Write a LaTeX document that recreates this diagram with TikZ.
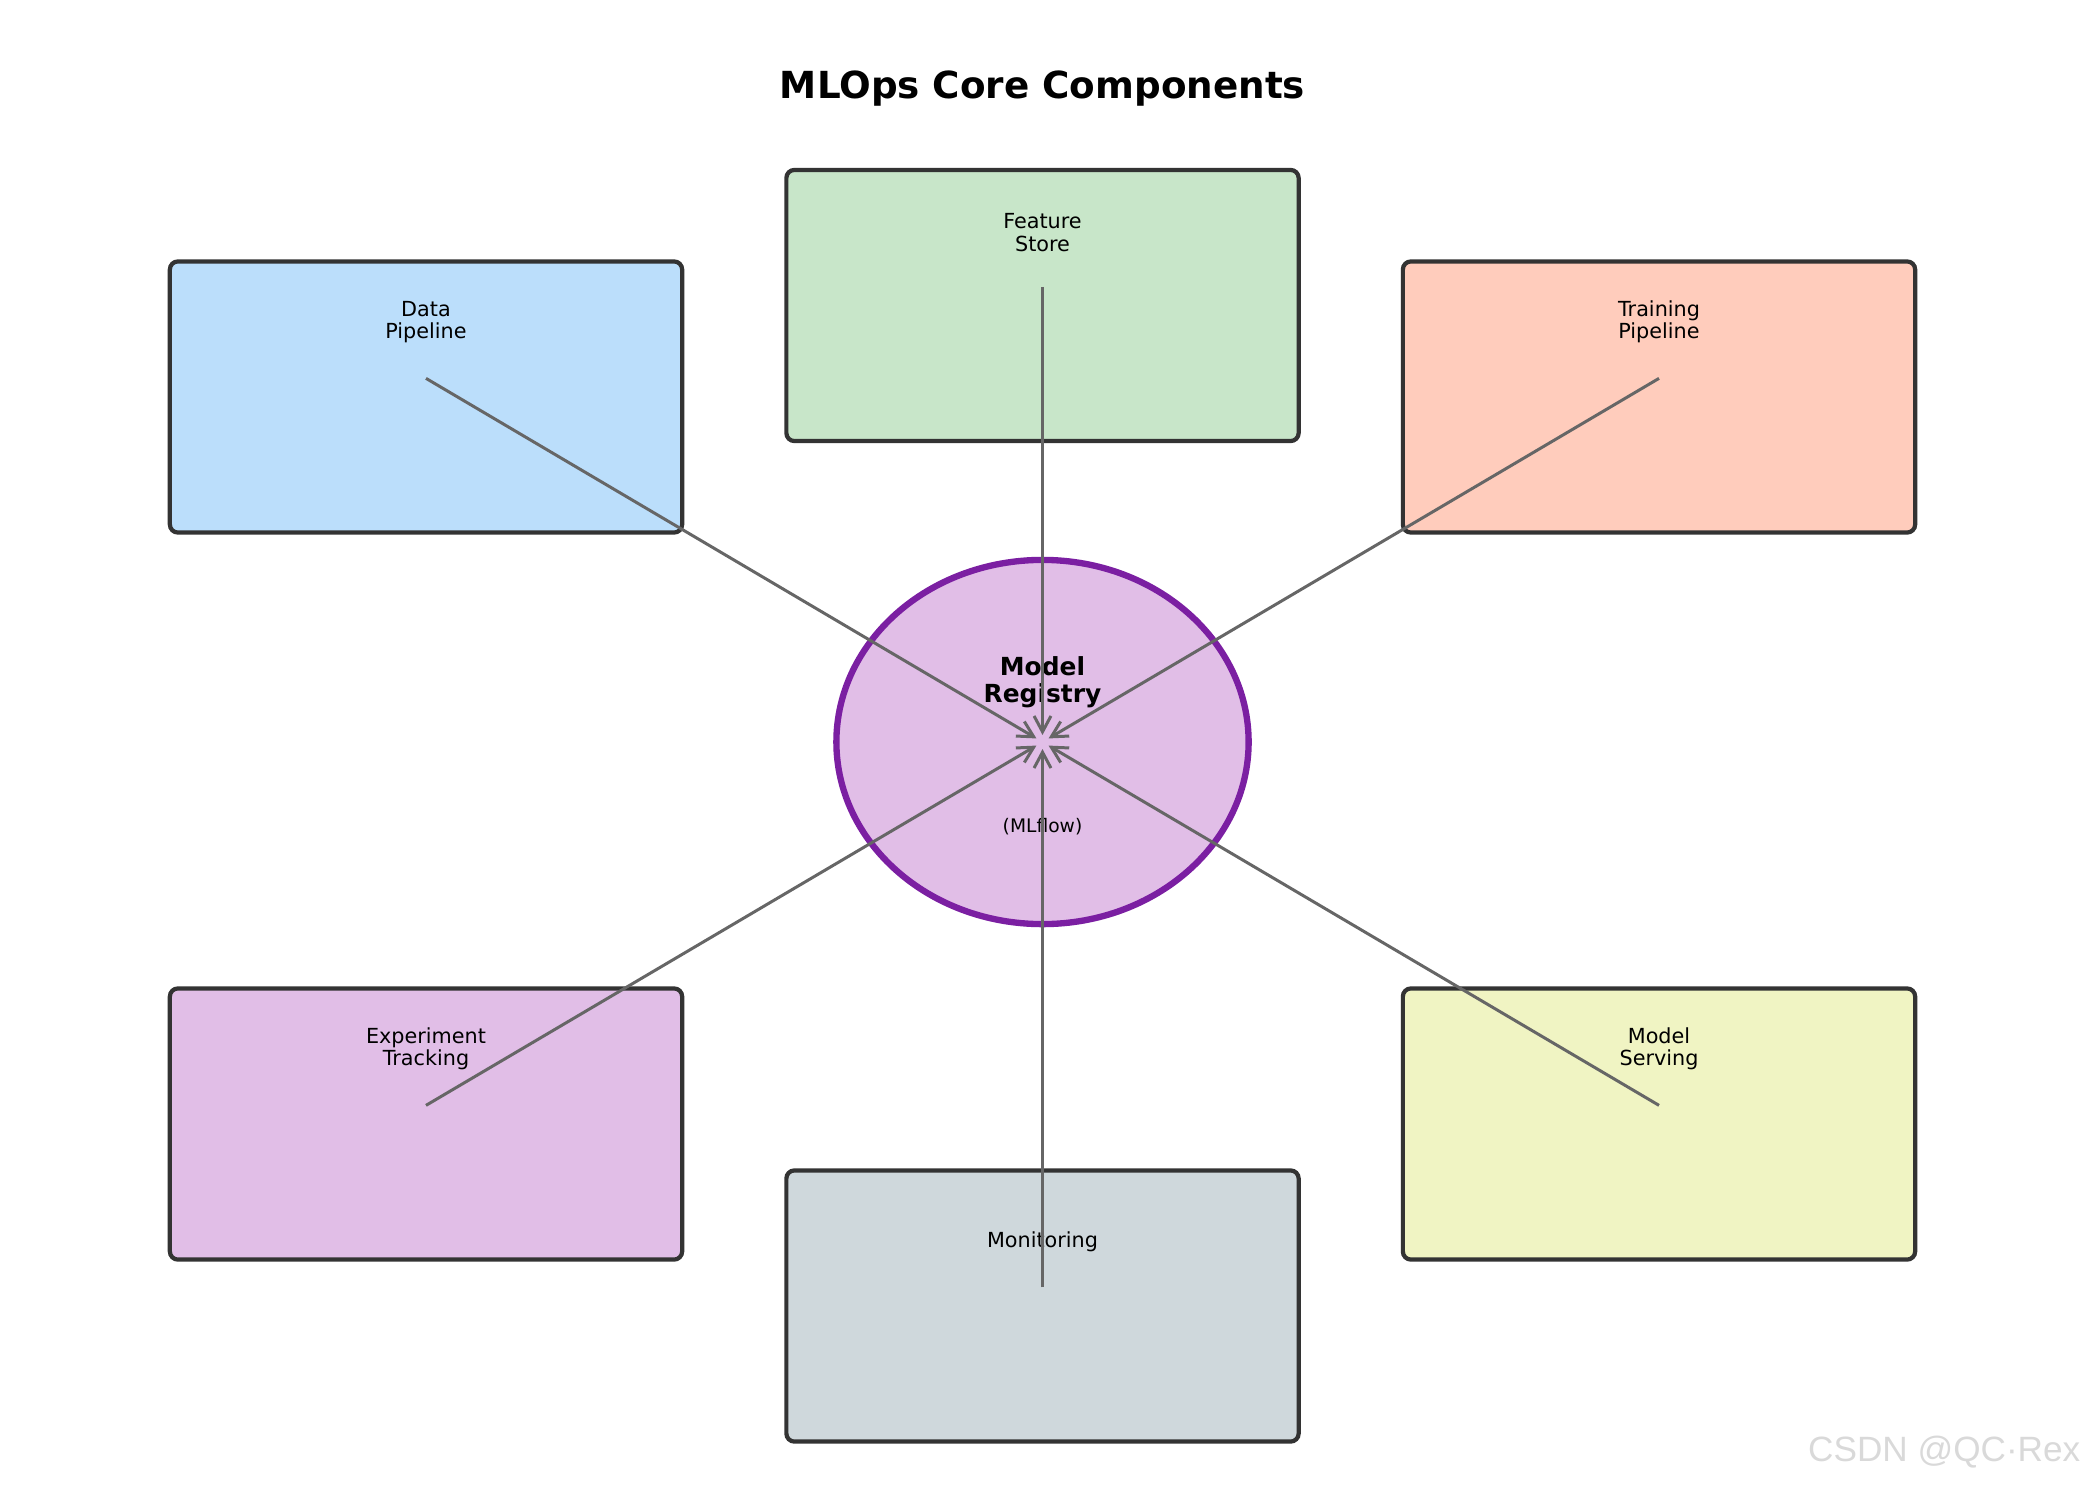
\documentclass[tikz,border=0pt]{standalone}
\usepackage{fontspec}
\setmainfont{DejaVu Sans}
\newfontfamily\wmfont{Liberation Sans}
\usepackage{tikz}
\usetikzlibrary{arrows.meta, shapes.geometric, positioning}
\definecolor{edgegray}{HTML}{333333}
\definecolor{arrowgray}{HTML}{666666}
\definecolor{regpurple}{HTML}{7B1FA2}
\definecolor{datablue}{HTML}{BBDEFB}
\definecolor{featgreen}{HTML}{C8E6C9}
\definecolor{trainorange}{HTML}{FFCCBC}
\definecolor{exppurple}{HTML}{E1BEE7}
\definecolor{servelime}{HTML}{F0F4C3}
\definecolor{mongray}{HTML}{CFD8DC}

\begin{document}
\begin{tikzpicture}[x=0.01cm, y=-0.01cm,
  component/.style={draw=edgegray, line width=1.2pt, rounded corners=2.3pt, minimum width=5.12cm, minimum height=2.71cm, inner sep=0pt},
  complabel/.style={anchor=south, align=center, inner sep=0pt, font=\fontsize{5.9}{6.43}\selectfont},
  flow/.style={draw=arrowgray, line width=0.85pt, -{Straight Barb[length=4.5pt, width=4.8pt]}, shorten >=2pt}]
\useasboundingbox (0,0) rectangle (2085,1485);
\node[font=\fontsize{10.6}{12}\selectfont\bfseries] (title) at (1042.5,89) {MLOps Core Components};
% components around the registry
\node[component, fill=datablue] (data) at (426,397) {};
\node[component, fill=featgreen] (feature) at (1042.5,305.5) {};
\node[component, fill=trainorange] (training) at (1659,397) {};
\node[component, fill=exppurple] (experiment) at (426,1124) {};
\node[component, fill=servelime] (serving) at (1659,1124) {};
\node[component, fill=mongray] (monitoring) at (1042.5,1306) {};
\node[complabel] (data-lbl) at ([yshift=-0.845cm]data.north) {Data\\Pipeline};
\node[complabel] (feature-lbl) at ([yshift=-0.845cm]feature.north) {Feature\\Store};
\node[complabel] (training-lbl) at ([yshift=-0.845cm]training.north) {Training\\Pipeline};
\node[complabel] (experiment-lbl) at ([yshift=-0.845cm]experiment.north) {Experiment\\Tracking};
\node[complabel] (serving-lbl) at ([yshift=-0.845cm]serving.north) {Model\\Serving};
\node[complabel] (monitoring-lbl) at ([yshift=-0.845cm]monitoring.north) {Monitoring};
% central registry
\node[ellipse, draw=regpurple, line width=1.8pt, fill=exppurple, minimum width=4.12cm, minimum height=3.64cm, inner sep=0pt] (registry) at (1042.5,742) {};
\node[align=center, inner sep=0pt, font=\fontsize{7.08}{7.57}\selectfont\bfseries] (reg-name) at (1042.5,682) {Model\\Registry};
\node[inner sep=0pt, font=\fontsize{5.31}{6}\selectfont] (reg-tool) at (1042.5,826.5) {(MLflow)};
% connections
\foreach \n in {data,feature,training,experiment,serving,monitoring} {
  \coordinate (\n-src) at ([yshift=5.3pt]\n.center);
  \draw[flow] (\n-src) -- (registry.center);
}
\node[anchor=east, inner sep=0pt, text=gray!30, font=\wmfont\fontsize{10}{12}\selectfont] (mark) at (2081,1452) {CSDN @QC·Rex};
\end{tikzpicture}
\end{document}
